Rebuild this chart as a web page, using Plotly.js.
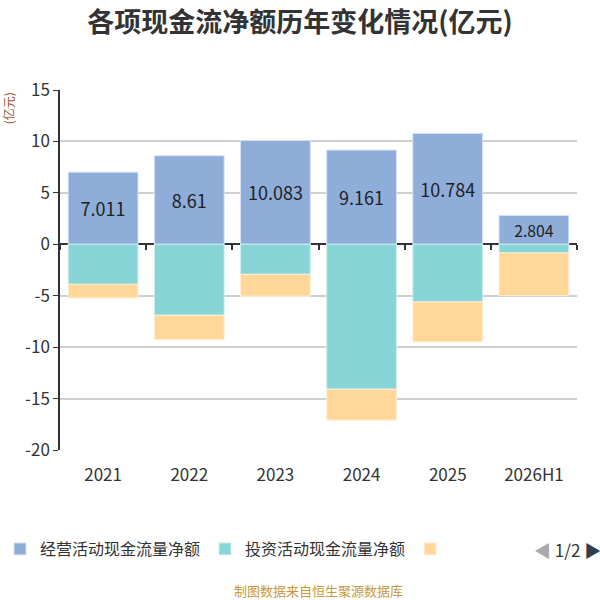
<!DOCTYPE html>
<html lang="zh">
<head>
    <meta charset="UTF-8">
    <title>各项现金流净额历年变化情况</title>
    <script src="https://cdn.plot.ly/plotly-3.0.1.min.js"></script>
    <style>
        body { margin: 0; }
        #plot { width: 600px; height: 600px; }
    </style>
</head>
<body>
<div id="plot"></div>
<script>
    let years = ["2021", "2022", "2023", "2024", "2025", "2026H1"]
    let operating = [7.011, 8.61, 10.083, 9.161, 10.784, 2.804]
    let investing = [-3.89, -6.9, -2.92, -14.09, -5.6, -0.84]
    let financing = [-1.33, -2.36, -2.13, -3.01, -3.89, -4.15]
    let yTicks = [15, 10, 5, 0, -5, -10, -15, -20]

    let yMin = -20
    let yMax = 15
    let font = "Noto Sans CJK SC, Noto Sans, sans-serif"

    let data = [
        {
            x: years, y: operating, type: "bar", name: "经营活动现金流量净额",
            marker: {color: "#8eadd9", line: {color: "#d6e2f3", width: 1}},
            text: operating.map(String), textposition: "inside", insidetextanchor: "middle",
            textfont: {color: "#222", size: 18}, hoverinfo: "x+y+name"
        },
        {
            x: years, y: investing, type: "bar", name: "投资活动现金流量净额",
            marker: {color: "#88d5d8", line: {color: "#d2eff0", width: 1}},
            hoverinfo: "x+y+name"
        },
        {
            x: years, y: financing, type: "bar", name: " ",
            marker: {color: "#ffd899", line: {color: "#fff0d6", width: 1}},
            hoverinfo: "x+y"
        },
        // invisible trace so the boundary ticks on the zero line get drawn
        {
            x: years, y: years.map(() => 0), xaxis: "x2", type: "bar",
            marker: {opacity: 0}, showlegend: false, hoverinfo: "skip"
        }
    ]

    let layout = {
        width: 600, height: 600,
        font: {family: font, color: "#333"},
        paper_bgcolor: "#fff", plot_bgcolor: "#fff",
        barmode: "relative", bargap: 0.19,
        margin: {l: 60, r: 23, t: 90, b: 150},
        title: {
            text: "<b>各项现金流净额历年变化情况(亿元)</b>",
            font: {size: 27, color: "#333", family: font},
            x: 0.5, xref: "container", xanchor: "center",
            y: 0.963, yref: "container", yanchor: "middle"
        },
        xaxis: {
            type: "category", showline: false, showgrid: false, zeroline: false,
            ticks: "outside", ticklen: 10, tickcolor: "rgba(0,0,0,0)",
            tickfont: {size: 17, color: "#333"}
        },
        xaxis2: {
            type: "category", overlaying: "x", anchor: "free",
            position: (0 - yMin) / (yMax - yMin), range: [-0.5, years.length - 0.5],
            showline: false, layer: "above traces",
            ticks: "outside", tickson: "boundaries", ticklen: 5, tickcolor: "#333", tickwidth: 1.5,
            showticklabels: false, showgrid: false, zeroline: false, fixedrange: true
        },
        yaxis: {
            range: [yMin, yMax], tickvals: yTicks, ticktext: yTicks.map(String),
            showline: true, linecolor: "#333", linewidth: 1.5,
            ticks: "outside", ticklen: 5, tickcolor: "#333",
            gridcolor: "#d0d0d0", gridwidth: 1.5,
            zeroline: true, zerolinecolor: "#333", zerolinewidth: 1.5,
            tickfont: {size: 17, color: "#333"}
        },
        showlegend: true,
        legend: {
            orientation: "h", xref: "container", yref: "container",
            x: 0, y: 0.085, xanchor: "left", yanchor: "middle",
            font: {size: 16, color: "#333"}, itemwidth: 30
        },
        annotations: [
            {
                text: "(亿元)", textangle: -90, xref: "paper", yref: "paper",
                x: -0.1, y: 1, xanchor: "center", yanchor: "top", showarrow: false,
                font: {size: 12, color: "#a0522d"}
            },
            {
                text: "<span style='color:#aaa'>◀</span> 1/2 <span style='color:#2f3e4e'>▶</span>",
                xref: "paper", yref: "paper", x: 1.05, y: -0.275, xanchor: "right", yanchor: "middle",
                showarrow: false, font: {size: 17, color: "#333"}
            },
            {
                text: "制图数据来自恒生聚源数据库", xref: "paper", yref: "paper",
                x: 0.5, y: -0.389, xanchor: "center", yanchor: "middle", showarrow: false,
                font: {size: 13, color: "#c8993a"}
            }
        ]
    }

    Plotly.newPlot("plot", data, layout, {displayModeBar: false})
</script>
</body>
</html>
